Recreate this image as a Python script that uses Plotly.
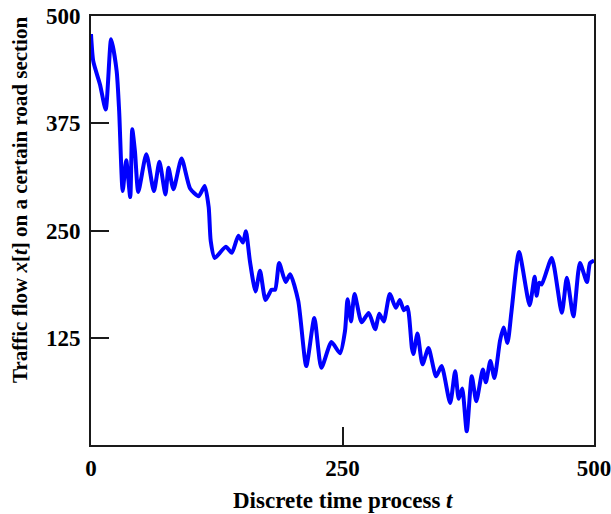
import plotly.graph_objects as go

# Discrete time samples and the measured traffic flow on the road section
t_values = [0, 2.3, 9, 14.6, 20, 25.5, 28, 31.5, 35, 39, 41, 43.7, 47, 55, 62.5, 68, 74, 77, 82,
            90, 98.5, 107, 113, 117, 119, 123, 134, 140, 146.5, 151, 154, 158, 163.5, 168,
            173.5, 179.5, 183, 187, 193.5, 198, 206, 214, 222, 229, 239, 247.5, 252.5, 255,
            258.5, 262, 269, 276, 282.5, 286.5, 291, 297, 303, 307, 311, 314.5, 319, 320.5,
            324.5, 329.5, 335.5, 343, 348.5, 357, 362, 365.5, 369, 373.5, 378.5, 383, 389.5,
            392.5, 397, 401, 406.5, 410, 414, 418, 425.5, 436, 441, 443, 445.5, 448, 458,
            468, 473, 479.5, 486, 493, 496, 500]
flow_values = [479, 447, 420, 391, 473, 436, 389, 296, 332, 289, 368, 342, 295, 339, 296, 330,
               292, 323, 298, 334, 299, 290, 302, 277, 238, 218, 231, 224, 244, 236, 249, 214,
               179, 203, 169, 181, 181, 212, 190, 199, 168, 92, 148, 90, 120, 107, 133, 170,
               144, 176, 143, 154, 135, 153, 144, 176, 160, 169, 157, 161, 113, 106, 130, 94,
               113, 80, 92, 49, 86, 54, 66, 16, 80, 51, 88, 73, 98, 78, 121, 137, 119, 156,
               225, 163, 196, 174, 189, 187, 218, 154, 195, 150, 212, 190, 212, 215]

x_ticks = [0, 250, 500]
y_ticks = [125, 250, 375, 500]

FONT = "Liberation Serif"
W, H = 611, 514
M_L, M_R, M_T, M_B = 91, 17, 16, 69
plot_h = H - M_T - M_B

fig = go.Figure()
fig.add_trace(go.Scatter(
    x=t_values, y=flow_values, mode="lines",
    line=dict(color="#0000FF", width=4, shape="spline", smoothing=0.6),
    hoverinfo="skip", showlegend=False,
))

axis_common = dict(
    showgrid=False, zeroline=False, automargin=False,
    showline=True, linecolor="#1a1a1a", linewidth=2, mirror=True,
    ticks="inside", ticklen=18, tickwidth=1.5, tickcolor="#1a1a1a",
    ticklabeloverflow="allow",
    tickfont=dict(family=FONT, size=23, color="black", weight="bold"),
)

fig.update_xaxes(range=[0, 500], tickvals=x_ticks, ticktext=[str(v) for v in x_ticks],
                 ticklabelstandoff=1, **axis_common)
fig.update_yaxes(range=[0, 500], tickvals=y_ticks, ticktext=[str(v) for v in y_ticks],
                 ticklabelstandoff=4, **axis_common)

fig.add_annotation(
    text="Discrete time process <i>t</i>",
    xref="paper", yref="paper", x=0.5, y=(-(500 - (H - M_B)) / plot_h),
    xanchor="center", yanchor="middle", showarrow=False,
    font=dict(family=FONT, size=23, color="black", weight="bold"),
)
fig.add_annotation(
    text="Traffic flow <i>x</i>[<i>t</i>] on a certain road section",
    xref="paper", yref="paper", x=(20 - M_L) / (W - M_L - M_R), y=((H - M_B) - 200) / plot_h,
    xanchor="center", yanchor="middle", textangle=-90, showarrow=False,
    font=dict(family=FONT, size=21, color="black", weight="bold"),
)

fig.update_layout(
    width=W, height=H,
    margin=dict(l=M_L, r=M_R, t=M_T, b=M_B),
    paper_bgcolor="white", plot_bgcolor="white",
)

fig.write_html("out.html")
